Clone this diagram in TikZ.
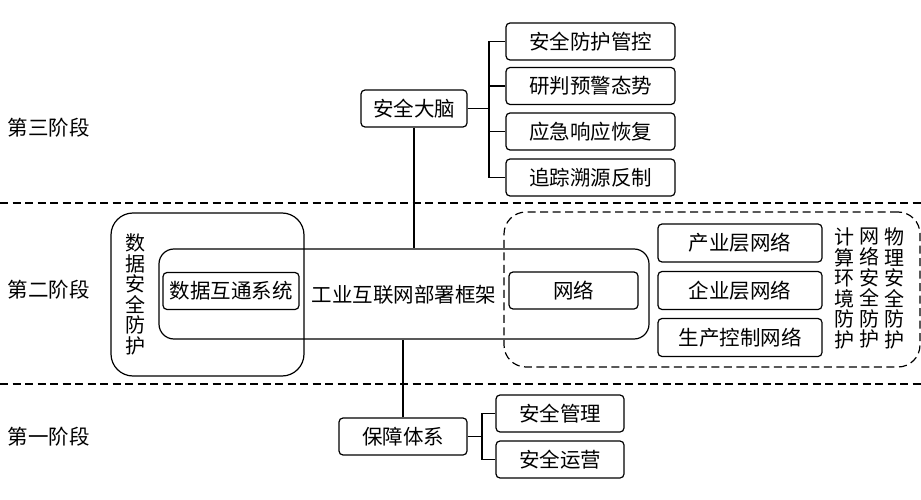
\documentclass[tikz,border=0pt]{standalone}
\usepackage{fontspec}
\setmainfont{Noto Sans CJK SC}
\begin{document}
\begin{tikzpicture}[x=1pt,y=-1pt,line width=1.2pt,
  every node/.style={font=\fontsize{20.5}{21}\selectfont, inner sep=0pt},
  box/.style={draw, rounded corners=4pt, minimum height=37pt},
  stage/.style={anchor=west},
  vtext/.style={align=center, font=\fontsize{20}{20.6}\selectfont},
  sep/.style={dash pattern=on 8pt off 4.5pt, line width=1.1pt}]
\useasboundingbox (0,0) rectangle (921,500);
% stage separators
\coordinate (l1) at (0,203); \coordinate (r1) at (921,203);
\coordinate (l2) at (0,384); \coordinate (r2) at (921,384);
\draw[sep] (l1) -- (r1);
\draw[sep] (l2) -- (r2);
% stage labels
\node[stage] (s3) at (7,128) {第三阶段};
\node[stage] (s2) at (7,290) {第二阶段};
\node[stage] (s1) at (7,437) {第一阶段};
% stage three
\node[box, minimum width=106pt] (brain) at (414,108.5) {安全大脑};
\node[box, minimum width=169pt] (b1) at (590.5,41.5) {安全防护管控};
\node[box, minimum width=169pt] (b2) at (590.5,86) {研判预警态势};
\node[box, minimum width=169pt] (b3) at (590.5,131.5) {应急响应恢复};
\node[box, minimum width=169pt] (b4) at (590.5,177.5) {追踪溯源反制};
\coordinate (bj) at (489,108.5);
\draw (brain.east) -- (bj);
\foreach \n in {b1,b2,b3,b4} \draw (\n.west) -| (bj);
% stage two
\node[draw, rounded corners=22pt, minimum width=193pt, minimum height=163pt] (dsec) at (207.5,294.5) {};
\node[draw, rounded corners=15pt, minimum width=490pt, minimum height=90pt] (frame) at (404,294) {};
\node[draw, dash pattern=on 8pt off 4.5pt, rounded corners=22pt, minimum width=416pt, minimum height=155pt] (net) at (712,289.5) {};
\node (ftext) at (404,295) {工业互联网部署框架};
\node[box, minimum width=136pt] (dsys) at (231,291) {数据互通系统};
\node[box, minimum width=129pt] (wl) at (573.5,290.5) {网络};
\node[box, minimum width=164pt, minimum height=38pt] (n1) at (740,243) {产业层网络};
\node[box, minimum width=164pt, minimum height=38pt] (n2) at (740,290.5) {企业层网络};
\node[box, minimum width=164pt, minimum height=38pt] (n3) at (740,337.5) {生产控制网络};
\node[vtext] (v0) at (135,294.5) {数\\据\\安\\全\\防\\护};
\node[vtext] (v1) at (844,288.5) {计\\算\\环\\境\\防\\护};
\node[vtext] (v2) at (869,288.5) {网\\络\\安\\全\\防\\护};
\node[vtext] (v3) at (894,288.5) {物\\理\\安\\全\\防\\护};
\draw (brain.south) -- (brain.south |- frame.north);
% stage one
\node[box, minimum width=128pt] (guard) at (403,436.5) {保障体系};
\node[box, minimum width=128pt] (g1) at (560,413.5) {安全管理};
\node[box, minimum width=128pt] (g2) at (560,459.5) {安全运营};
\coordinate (gj) at (482,436.5);
\draw (guard.east) -- (gj);
\foreach \n in {g1,g2} \draw (\n.west) -| (gj);
\draw (guard.north) -- (guard.north |- frame.south);
\end{tikzpicture}
\end{document}
